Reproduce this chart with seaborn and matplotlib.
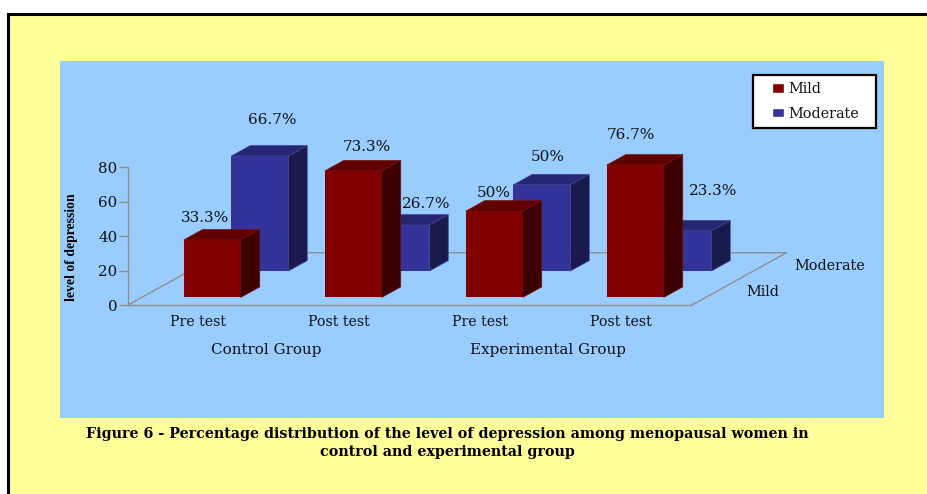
import matplotlib
matplotlib.use("Agg")
import matplotlib.pyplot as plt
from matplotlib.patches import Patch, Rectangle
import pandas as pd
import seaborn as sns

# Chart values
phases = ["Pre test", "Post test", "Pre test", "Post test"]
groups = ["Control Group", "Experimental Group"]
mild_values = [33.3, 73.3, 50, 76.7]
moderate_values = [66.7, 26.7, 50, 23.3]
mild_labels = ["33.3%", "73.3%", "50%", "76.7%"]
moderate_labels = ["66.7%", "26.7%", "50%", "23.3%"]
value_ticks = [0, 20, 40, 60, 80]

# Label nudges from the centre of each bar's top front edge, in pixels
mild_nudges = [(-7.5, 22), (13.3, 24.3), (0, 18.3), (-4.7, 29.7)]
moderate_nudges = [(12.5, 36), (25.7, 20.7), (6, 28.3), (30, 39.5)]

# Page geometry, in pixels
W, H = 928, 494
PANEL = (60, 61, 884, 418)
LEGEND_BOX = (753, 75, 876, 128)
X0, Y0 = 127.5, 305.3
PX_PER_CAT, PX_PER_VAL = 141.0, 1.725
DEPTH_PX = (95.0, 52.6)
PT = 0.72  # points per pixel at 100 dpi

YELLOW, SKY = "#FFFF99", "#99CCFF"
MAROON = ("#800000", "#600000", "#3c0000", "#7a1010")
INDIGO = ("#333399", "#262673", "#1a1a4d", "#43439f")
INK = "#111111"
SERIF = "Liberation Serif"
WIDE_SERIF = "DejaVu Serif"

BAR_WIDTH = 57 / PX_PER_CAT
BAR_DEPTH = 0.2

sns.set_theme(style="white")
plt.rcParams["font.family"] = [WIDE_SERIF, "DejaVu Sans"]


def project(x, depth, value):
    """Oblique projection of (category, depth, value) onto the flat axes."""
    return (x + depth * DEPTH_PX[0] / PX_PER_CAT,
            value + depth * DEPTH_PX[1] / PX_PER_VAL)


fig = plt.figure(figsize=(W / 100, H / 100), dpi=100, facecolor="white")
fig.add_artist(Rectangle((7.5 / W, -0.02), 1.0, 1 - 14 / H + 0.02,
                         transform=fig.transFigure, facecolor=YELLOW,
                         edgecolor="black", linewidth=2.2, zorder=-1))

ax = fig.add_axes([PANEL[0] / W, 1 - PANEL[3] / H,
                   (PANEL[2] - PANEL[0]) / W, (PANEL[3] - PANEL[1]) / H])
ax.set_facecolor(SKY)


def draw_row(values, row_depth, colors, zorder, labels, nudges):
    front = row_depth - BAR_DEPTH / 2
    back = front + BAR_DEPTH
    centers = [i + 0.5 + front * DEPTH_PX[0] / PX_PER_CAT for i in range(len(values))]
    floor = front * DEPTH_PX[1] / PX_PER_VAL
    frame = pd.DataFrame({"position": centers, "value": values})
    sns.barplot(data=frame, x="position", y="value", native_scale=True,
                width=BAR_WIDTH, color=colors[0], saturation=1, errorbar=None,
                bottom=floor, linewidth=0, zorder=zorder, ax=ax)
    for i, v in enumerate(values):
        left = i + 0.5 - BAR_WIDTH / 2
        right = i + 0.5 + BAR_WIDTH / 2
        top_face = [project(left, front, v), project(right, front, v),
                    project(right, back, v), project(left, back, v)]
        side_face = [project(right, front, 0), project(right, back, 0),
                     project(right, back, v), project(right, front, v)]
        for face, shade in ((top_face, colors[1]), (side_face, colors[2])):
            xs, ys = zip(*face)
            ax.fill(xs, ys, facecolor=shade, edgecolor=colors[3],
                    linewidth=0.5, zorder=zorder)
        cx, cy = project(i + 0.5, front, v)
        ax.annotate(labels[i], (cx, cy), xytext=(nudges[i][0] * PT, nudges[i][1] * PT),
                    textcoords="offset points", ha="center", va="center",
                    fontsize=11, color=INK, zorder=10)


# Floor outline of the oblique box
corners = [project(0, 0, 0), project(0, 1, 0), project(4, 1, 0), project(4, 0, 0)]
xs, ys = zip(*corners)
ax.plot(xs, ys, color="#8f8f8f", linewidth=1.0, zorder=1.5)

draw_row(moderate_values, 0.75, INDIGO, 3, moderate_labels, moderate_nudges)
draw_row(mild_values, 0.25, MAROON, 5, mild_labels, mild_nudges)

# Flat axes aligned so that category 0 / value 0 sits on the box corner
ax.set_xlim((PANEL[0] - X0) / PX_PER_CAT, (PANEL[2] - X0) / PX_PER_CAT)
ax.set_ylim((Y0 - PANEL[3]) / PX_PER_VAL, (Y0 - PANEL[1]) / PX_PER_VAL)

for side in ("top", "right"):
    ax.spines[side].set_visible(False)
ax.spines["left"].set_position(("data", 0))
ax.spines["left"].set_bounds(0, 80)
ax.spines["bottom"].set_position(("data", 0))
ax.spines["bottom"].set_bounds(0, 4)
for side in ("left", "bottom"):
    ax.spines[side].set_color("#8f8f8f")
    ax.spines[side].set_linewidth(1.0)

ax.set_yticks(value_ticks)
ax.set_yticklabels([str(t) for t in value_ticks])
ax.set_xticks([i + 0.5 for i in range(len(phases))])
ax.set_xticklabels(phases)
ax.tick_params(axis="y", left=True, length=6.8, width=1.0, color="#8f8f8f",
               pad=0.5, labelsize=10.8, labelcolor=INK)
ax.tick_params(axis="x", bottom=False, length=0, pad=7.2, labelsize=10.2, labelcolor=INK)
ax.set_xlabel("")
ax.set_ylabel("")

# Group names under the phase labels
for center, name in zip((1, 3), groups):
    ax.annotate(name, (center, 0), xytext=(-2 * PT, -44.7 * PT),
                textcoords="offset points", ha="center", va="center",
                fontsize=10.9, color=INK)

# Depth axis labels along the right edge of the floor
for depth, name in ((0.25, "Mild"), (0.75, "Moderate")):
    ax.annotate(name, project(4, depth, 0), xytext=(31.5 * PT, 0),
                textcoords="offset points", ha="left", va="center",
                fontsize=10.4, color=INK)

fig.text(72 / W, 1 - 247 / H, "level of depression", rotation=90, ha="center",
         va="center", fontsize=9.9, fontweight="bold", family=SERIF, color="black")

# Legend sits inside its own white box, with wide side margins
ax.add_patch(Rectangle((LEGEND_BOX[0] / W, 1 - LEGEND_BOX[3] / H),
                       (LEGEND_BOX[2] - LEGEND_BOX[0]) / W,
                       (LEGEND_BOX[3] - LEGEND_BOX[1]) / H,
                       transform=fig.transFigure, facecolor="white",
                       edgecolor="black", linewidth=1.6, zorder=11, clip_on=False))
legend = ax.legend(
    handles=[Patch(facecolor=MAROON[0], label="Mild"),
             Patch(facecolor=INDIGO[0], label="Moderate")],
    loc="upper left", bbox_to_anchor=(772 / W, 1 - 82 / H),
    bbox_transform=fig.transFigure, frameon=False, borderaxespad=0, borderpad=0,
    fontsize=10.4, labelcolor=INK, handlelength=0.83, handleheight=0.62,
    handletextpad=0.3, labelspacing=0.74)
legend.set_zorder(12)

fig.text(447 / W, 1 - 443 / H,
         "Figure 6 - Percentage distribution of the level of depression among menopausal women in\n"
         "control and experimental group",
         ha="center", va="center", multialignment="center", fontsize=10.3,
         fontweight="bold", linespacing=1.4, color="black")

fig.savefig("out.png", dpi=100, facecolor=fig.get_facecolor())
